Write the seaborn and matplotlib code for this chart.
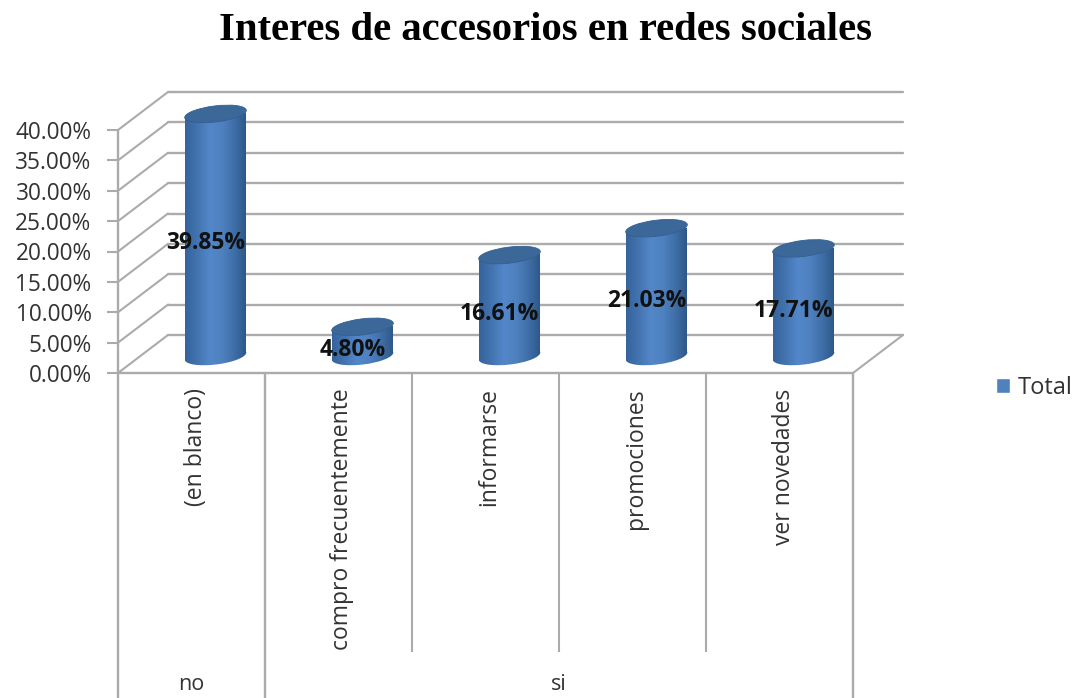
import numpy as np
import pandas as pd
import matplotlib
matplotlib.use("Agg")
import matplotlib.pyplot as plt
import seaborn as sns
from matplotlib.colors import LinearSegmentedColormap
from matplotlib.patches import Ellipse, Patch
from matplotlib.path import Path
from matplotlib.transforms import Affine2D, IdentityTransform

# -----------------------------
# Data
# -----------------------------
categorias = ["(en blanco)", "compro frecuentemente", "informarse", "promociones", "ver novedades"]
valores = [39.85, 4.80, 16.61, 21.03, 17.71]
grupos = ["no", "si"]
grupo_posiciones = [[0], [1, 2, 3, 4]]
y_ticks = [0, 5, 10, 15, 20, 25, 30, 35, 40]
serie = "Total"
titulo = "Interes de accesorios en redes sociales"

df = pd.DataFrame({"categoria": categorias, "valor": valores})

# -----------------------------
# Figure, front plane of the fake 3D box
# -----------------------------
W, H = 1081, 698
sns.set_theme(style="white")
plt.rcParams["font.family"] = ["Open Sans", "DejaVu Sans"]

fig = plt.figure(figsize=(W / 100, H / 100), dpi=100)
ax = fig.add_axes([118 / W, (H - 373) / H, (853 - 118) / W, (373 - 130) / H])

sns.barplot(data=df, x="categoria", y="valor", color="#4f81bd", width=0.415, ax=ax)
ax.set_xlim(-0.5, 4.5)
ax.set_ylim(0, 40)
ax.set_xlabel("")
ax.set_ylabel("")
for s in ["top", "right", "bottom", "left"]:
    ax.spines[s].set_visible(False)

grid_color = "#ababab"
text_color = "#333333"
wall = ax.transData + Affine2D().translate(50, 38)    # back wall
floor = ax.transData + Affine2D().translate(24, 17)   # where the cylinders stand
px = IdentityTransform()

# walls
for v in y_ticks:
    ax.plot([-0.5, 4.5], [v, v], transform=wall, color=grid_color, lw=1.7, clip_on=False, zorder=1)
    p0 = ax.transData.transform((-0.5, v))
    p1 = wall.transform((-0.5, v))
    ax.plot([p0[0], p1[0]], [p0[1], p1[1]], transform=px, color=grid_color, lw=1.5, clip_on=False, zorder=1)
p0 = ax.transData.transform((4.5, 0))
p1 = wall.transform((4.5, 0))
ax.plot([p0[0], p1[0]], [p0[1], p1[1]], transform=px, color=grid_color, lw=1.5, clip_on=False, zorder=1)
ax.plot([-0.5, 4.5], [0, 0], color=grid_color, lw=1.7, clip_on=False, zorder=1)
ax.plot([-0.5, -0.5], [0, 40], color=grid_color, lw=1.7, clip_on=False, zorder=1)

# -----------------------------
# Cylinders
# -----------------------------
body_cmap = LinearSegmentedColormap.from_list(
    "cyl", ["#35639c", "#4374b0", "#5387c9", "#4f81c0", "#3f6fa8", "#2c5686"])
gradient = np.linspace(0, 1, 128).reshape(1, -1)
tilt = 7
rise = 4
for bar in ax.patches:
    x0, x1 = bar.get_x(), bar.get_x() + bar.get_width()
    h = bar.get_height()
    bar.set_visible(False)
    xl, yb = floor.transform((x0, 0))
    xr, yt = floor.transform((x1, h))
    xc = (xl + xr) / 2
    w = xr - xl

    outline = Path([(xl, yb - rise), (xr, yb + rise), (xr, yt + rise), (xl, yt - rise), (xl, yb - rise)])
    base = Ellipse((xc, yb), w + 1, 17, angle=tilt)
    base_path = base.get_path().transformed(base.get_patch_transform())
    clip = Path.make_compound_path(outline, base_path)

    im = ax.imshow(gradient, extent=[x0, x1, -2, h], aspect="auto", cmap=body_cmap,
                   transform=floor, zorder=3)
    im.set_clip_box(fig.bbox)
    im.set_clip_path(clip, px)

    ax.add_patch(Ellipse((xc, yt), w + 1, 16, angle=tilt, transform=px, facecolor="#3b6899",
                         edgecolor="#34608f", lw=0.6, clip_on=False, zorder=4))
ax.set_xlim(-0.5, 4.5)
ax.set_ylim(0, 40)

# data labels
label_tr = ax.transData + Affine2D().translate(14, 8.5)
for i, v in enumerate(valores):
    ax.text(i, v / 2, f"{v:.2f}%", transform=label_tr, ha="center", va="center",
            fontsize=16.5, fontweight="bold", color="#111111", clip_on=False, zorder=6)

# -----------------------------
# Axis labels
# -----------------------------
ax.set_yticks(y_ticks)
ax.set_yticklabels([f"{v:.2f}%" for v in y_ticks], fontsize=16.3, color=text_color)
ax.tick_params(axis="y", length=8, width=1.5, color=grid_color, pad=11, left=True)
ax.set_xticks(range(len(categorias)))
ax.set_xticklabels(categorias, rotation=90, fontsize=16.5, color=text_color)
ax.tick_params(axis="x", length=0, pad=11)
for lab in ax.get_xticklabels():
    lab.set_transform(lab.get_transform() + Affine2D().translate(4, 0))

# multi level separators under the axis
xax = ax.get_xaxis_transform()
inner_bottom = (373 - 652) / 243
outer_bottom = (373 - 698) / 243
ax.vlines([0.5 + i for i in range(1, 4)], inner_bottom, 0, transform=xax, color=grid_color, lw=1.5, clip_on=False)
ax.vlines([-0.5, 0.5, 4.5], outer_bottom, 0, transform=xax, color=grid_color, lw=1.7, clip_on=False)
for g, pos in zip(grupos, grupo_posiciones):
    ax.text(np.mean(pos), (373 - 685) / 243, g, transform=xax, ha="center", va="center",
            fontsize=15.5, color=text_color, clip_on=False)

# -----------------------------
# Title and legend
# -----------------------------
fig.text(546 / W, (H - 30) / H, titulo, ha="center", va="center", fontsize=29.3,
         fontweight="bold", family="Liberation Serif", color="black")
fig.legend(handles=[Patch(facecolor="#4f81bd", label=serie)], loc="center left",
           bbox_to_anchor=(996 / W, (H - 388) / H), frameon=False, fontsize=17,
           labelcolor=text_color, handlelength=0.6, handleheight=0.6, handletextpad=0.3,
           borderaxespad=0, borderpad=0)

fig.savefig("out.png", dpi=100)
